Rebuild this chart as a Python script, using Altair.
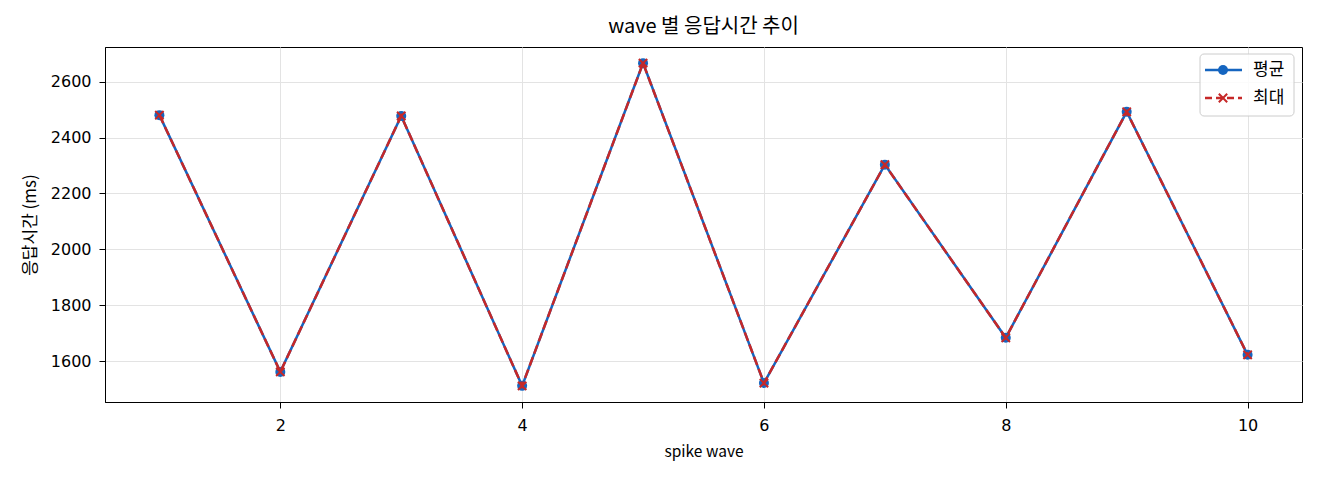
import altair as alt
import pandas as pd

# ---- data ----
waves = [1, 2, 3, 4, 5, 6, 7, 8, 9, 10]
mean_ms = [2480, 1562, 2477, 1512, 2666, 1522, 2303, 1684, 2492, 1623]
max_ms = [2480, 1562, 2477, 1512, 2666, 1522, 2303, 1684, 2492, 1623]
series_names = ["평균", "최대"]
x_ticks = [2, 4, 6, 8, 10]
y_ticks = [1600, 1800, 2000, 2200, 2400, 2600]
title_text = "wave 별 응답시간 추이"
x_title = "spike wave"
y_title = "응답시간 (ms)"

BLUE = "#1565c0"
RED = "#c62828"
FONT = "Noto Sans CJK KR"
NUMFONT = "DejaVu Sans"
X_PATH = "M-1,-1L1,1M-1,1L1,-1"

df = pd.DataFrame({"wave": waves, "mean": mean_ms, "max": max_ms})
leg_df = pd.DataFrame({"name": series_names})
box_df = pd.DataFrame({"k": [0]})

W, H = 1197, 355

x_scale = alt.Scale(domain=[0.55, 10.45], nice=False, zero=False)
y_scale = alt.Scale(domain=[1454.3, 2723.7], nice=False, zero=False)

x_axis = alt.Axis(values=x_ticks, title=x_title, format="d", grid=True,
                  labelPadding=9, titleY=49, titleBaseline="middle",
                  titleFontSize=15.5)
y_axis = alt.Axis(values=y_ticks, title=y_title, format="d", grid=True,
                  labelPadding=8, titleX=-75, titleY=H / 2, titleAngle=-90,
                  titleAlign="center", titleBaseline="middle", titleFontSize=17)

base = alt.Chart(df)
xe = alt.X("wave:Q", scale=x_scale, axis=x_axis)

mean_line = base.mark_line(color=BLUE, strokeWidth=2.5).encode(
    x=xe, y=alt.Y("mean:Q", scale=y_scale, axis=y_axis))
mean_pts = base.mark_point(shape="circle", filled=True, color=BLUE, size=100, opacity=1).encode(
    x=xe, y=alt.Y("mean:Q", scale=y_scale, axis=y_axis))
max_line = base.mark_line(color=RED, strokeWidth=2.5, strokeDash=[9, 4]).encode(
    x=xe, y=alt.Y("max:Q", scale=y_scale, axis=y_axis))
max_pts = base.mark_point(shape=X_PATH, filled=False, color=RED, size=70,
                          strokeWidth=2, opacity=1).encode(
    x=xe, y=alt.Y("max:Q", scale=y_scale, axis=y_axis))

# ---- legend (upper right, inside the plot) ----
leg_box = alt.Chart(box_df).mark_rect(cornerRadius=4, fill="white", fillOpacity=0.85,
                                      stroke="#cccccc", strokeWidth=1).encode(
    x=alt.value(1095), x2=alt.value(1189), y=alt.value(7), y2=alt.value(69))
r1, r2 = 23, 51
leg_l1 = alt.Chart(box_df).mark_rule(color=BLUE, strokeWidth=2.5).encode(
    x=alt.value(1100), x2=alt.value(1137), y=alt.value(r1))
leg_p1 = alt.Chart(box_df).mark_point(shape="circle", filled=True, color=BLUE, size=100, opacity=1).encode(
    x=alt.value(1118), y=alt.value(r1))
leg_l2 = alt.Chart(box_df).mark_rule(color=RED, strokeWidth=2.5, strokeDash=[7, 4]).encode(
    x=alt.value(1100), x2=alt.value(1137), y=alt.value(r2))
leg_p2 = alt.Chart(box_df).mark_point(shape=X_PATH, filled=False, color=RED, size=70,
                                      strokeWidth=2, opacity=1).encode(
    x=alt.value(1118), y=alt.value(r2))
leg_t1 = alt.Chart(leg_df).transform_filter(alt.datum.name == series_names[0]).mark_text(
    align="left", baseline="middle", font=FONT, fontSize=17, color="black").encode(
    x=alt.value(1148), y=alt.value(r1), text="name:N")
leg_t2 = alt.Chart(leg_df).transform_filter(alt.datum.name == series_names[1]).mark_text(
    align="left", baseline="middle", font=FONT, fontSize=17, color="black").encode(
    x=alt.value(1148), y=alt.value(r2), text="name:N")

chart = alt.layer(
    mean_line, mean_pts, max_line, max_pts,
    leg_box, leg_l1, leg_p1, leg_l2, leg_p2, leg_t1, leg_t2,
).properties(
    width=W, height=H,
    title=alt.TitleParams(title_text, font=FONT, fontSize=20, fontWeight="normal",
                          color="black", offset=10),
    autosize=alt.AutoSizeParams(type="none"),
    padding={"left": 97, "top": 39, "right": 8, "bottom": 70},
).configure_view(
    stroke="black", strokeWidth=1
).configure_axis(
    domainColor="black", domainWidth=1, tickColor="black", tickSize=6, tickWidth=1,
    labelFont=NUMFONT, labelFontSize=16, labelColor="black",
    titleFont=FONT, titleColor="black", titleFontWeight="normal",
    gridColor="#e3e3e3", gridWidth=1,
)

chart.save("out.html", embed_options={"renderer": "svg", "actions": False})
